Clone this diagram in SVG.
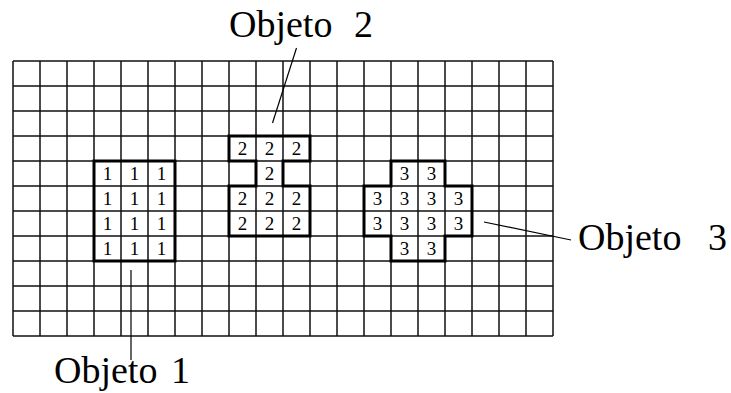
<svg xmlns="http://www.w3.org/2000/svg" width="731" height="393" viewBox="0 0 731 393">
<style>
.grid{stroke:#111;stroke-width:1.5;fill:none}
.outline{stroke:#000;stroke-width:3;fill:none}
.d{font-family:"Liberation Serif","Times New Roman",serif;font-size:19px;fill:#000;text-anchor:middle}
.lbl{font-family:"Liberation Serif","Times New Roman",serif;font-size:38px;fill:#000}
.lead{stroke:#000;stroke-width:1.2;fill:none}
</style>
<rect width="731" height="393" fill="#fff"/>
<g id="grid" class="grid">
<path d="M13,61V336M40,61V336M67,61V336M94,61V336M121,61V336M148,61V336M175,61V336M202,61V336M229,61V336M256,61V336M283,61V336M310,61V336M337,61V336M364,61V336M391,61V336M418,61V336M445,61V336M472,61V336M499,61V336M526,61V336M553,61V336"/>
<path d="M13,61H553M13,86H553M13,111H553M13,136H553M13,161H553M13,186H553M13,211H553M13,236H553M13,261H553M13,286H553M13,311H553M13,336H553"/>
</g>
<g id="objeto1">
<rect class="outline" x="94" y="161" width="81" height="100"/>
<g class="d">
<text x="107.5" y="180">1</text><text x="134.5" y="180">1</text><text x="161.5" y="180">1</text>
<text x="107.5" y="205">1</text><text x="134.5" y="205">1</text><text x="161.5" y="205">1</text>
<text x="107.5" y="230">1</text><text x="134.5" y="230">1</text><text x="161.5" y="230">1</text>
<text x="107.5" y="255">1</text><text x="134.5" y="255">1</text><text x="161.5" y="255">1</text>
</g>
</g>
<g id="objeto2">
<path class="outline" d="M229,136H310V161H283V186H310V236H229V186H256V161H229Z"/>
<g class="d">
<text x="242.5" y="155">2</text><text x="269.5" y="155">2</text><text x="296.5" y="155">2</text>
<text x="269.5" y="180">2</text>
<text x="242.5" y="205">2</text><text x="269.5" y="205">2</text><text x="296.5" y="205">2</text>
<text x="242.5" y="230">2</text><text x="269.5" y="230">2</text><text x="296.5" y="230">2</text>
</g>
</g>
<g id="objeto3">
<path class="outline" d="M391,161H445V186H472V236H445V261H391V236H364V186H391Z"/>
<g class="d">
<text x="404.5" y="180">3</text><text x="431.5" y="180">3</text>
<text x="377.5" y="205">3</text><text x="404.5" y="205">3</text><text x="431.5" y="205">3</text><text x="458.5" y="205">3</text>
<text x="377.5" y="230">3</text><text x="404.5" y="230">3</text><text x="431.5" y="230">3</text><text x="458.5" y="230">3</text>
<text x="404.5" y="255">3</text><text x="431.5" y="255">3</text>
</g>
</g>
<g id="connectors" class="lead">
<line x1="296.5" y1="48" x2="272.5" y2="123"/>
<line x1="131" y1="270" x2="131" y2="360"/>
<line x1="484" y1="222" x2="571" y2="240"/>
</g>
<g id="label1" class="lbl"><text x="54" y="383">Objeto</text><text x="171" y="383">1</text></g>
<g id="label2" class="lbl"><text x="229" y="37">Objeto</text><text x="354" y="37">2</text></g>
<g id="label3" class="lbl"><text x="578" y="250">Objeto</text><text x="708" y="250">3</text></g>
</svg>
